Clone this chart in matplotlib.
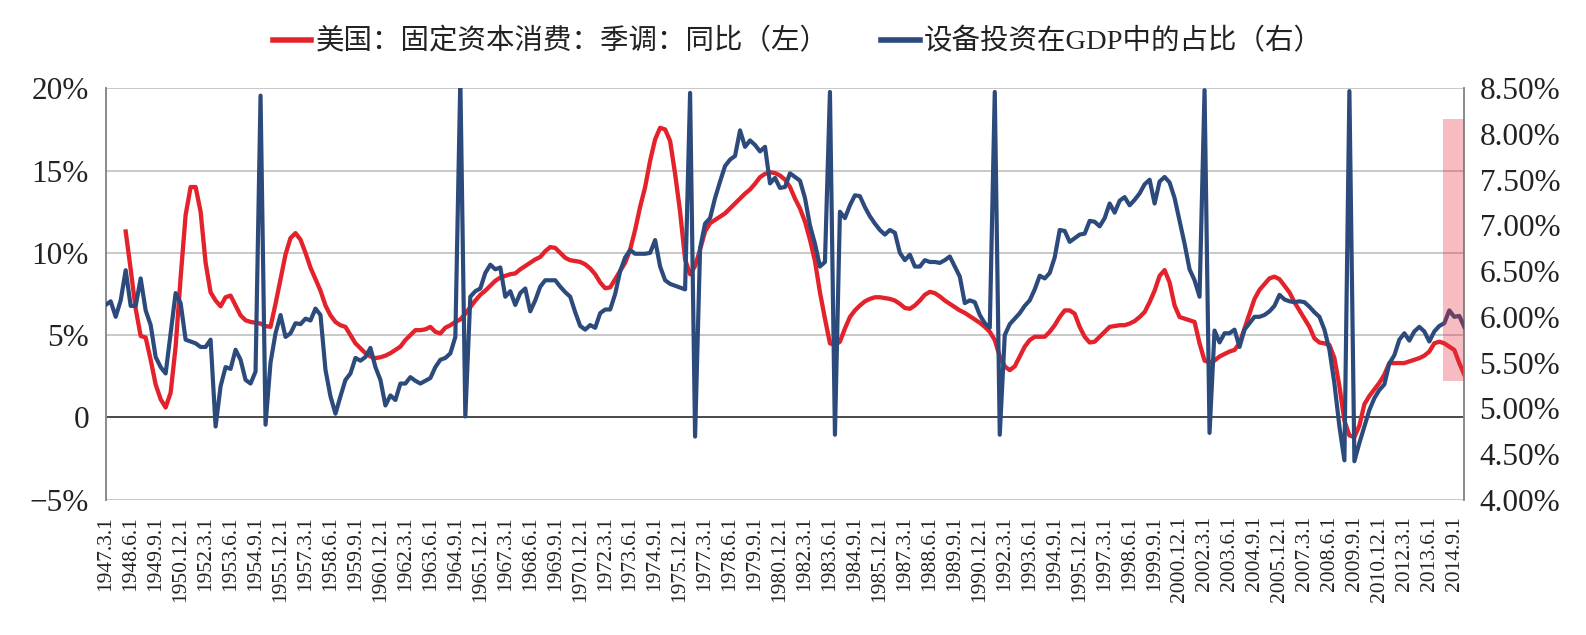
import numpy as np
import matplotlib
matplotlib.use("Agg")
import matplotlib.pyplot as plt
from matplotlib.patches import Rectangle

# ---------------- data (quarterly, 1947Q1 .. 2015Q1) ----------------
nan = np.nan
# 美国：固定资本消费：季调：同比 (%), left axis
capital_consumption_yoy = [
    nan, nan, nan, nan, 11.3, 9.0, 6.6, 4.95, 4.85, 3.5,          # 0-9
    2.0, 1.1, 0.6, 1.5, 4.3, 8.5, 12.3, 14.0, 14.0, 12.5,         # 10-19
    9.4, 7.6, 7.1, 6.75, 7.3, 7.4, 6.8, 6.2, 5.9, 5.8,            # 20-29
    5.75, 5.7, 5.55, 5.5, 6.9, 8.4, 9.9, 10.9, 11.2, 10.8,        # 30-39
    10.0, 9.1, 8.4, 7.7, 6.8, 6.2, 5.8, 5.6, 5.5, 5.0,            # 40-49
    4.5, 4.2, 3.9, 3.7, 3.6, 3.65, 3.75, 3.9, 4.1, 4.3,           # 50-59
    4.7, 5.0, 5.3, 5.3, 5.35, 5.5, 5.2, 5.1, 5.45, 5.6,           # 60-69
    5.8, 5.95, 6.3, 6.7, 7.1, 7.45, 7.7, 8.0, 8.3, 8.5,           # 70-79
    8.6, 8.7, 8.75, 9.0, 9.2, 9.4, 9.6, 9.75, 10.1, 10.35,        # 80-89
    10.3, 10.0, 9.7, 9.55, 9.5, 9.45, 9.3, 9.05, 8.7, 8.2,        # 90-99
    7.85, 7.9, 8.4, 8.9, 9.4, 10.2, 11.4, 12.8, 14.0, 15.6,       # 100-109
    16.9, 17.6, 17.5, 16.8, 14.8, 12.5, 9.6, 8.7, 9.2, 10.2,      # 110-119
    11.3, 11.8, 12.0, 12.2, 12.4, 12.7, 13.0, 13.3, 13.6, 13.85,  # 120-129
    14.2, 14.6, 14.8, 14.9, 14.85, 14.7, 14.45, 14.0, 13.3, 12.7, # 130-139
    11.9, 10.8, 9.5, 7.6, 6.0, 4.5, 4.4, 4.6, 5.4, 6.1,           # 140-149
    6.5, 6.8, 7.05, 7.2, 7.3, 7.3, 7.25, 7.2, 7.1, 6.9,           # 150-159
    6.65, 6.6, 6.8, 7.1, 7.45, 7.63, 7.55, 7.35, 7.1, 6.9,        # 160-169
    6.7, 6.5, 6.35, 6.15, 5.95, 5.75, 5.5, 5.2, 4.7, 3.7,         # 170-179
    3.1, 2.87, 3.1, 3.7, 4.3, 4.7, 4.9, 4.9, 4.9, 5.2,            # 180-189
    5.6, 6.1, 6.5, 6.5, 6.3, 5.5, 4.9, 4.55, 4.6, 4.9,            # 190-199
    5.2, 5.5, 5.55, 5.6, 5.6, 5.7, 5.85, 6.1, 6.4, 7.0,           # 200-209
    7.7, 8.6, 8.95, 8.2, 6.8, 6.1, 6.0, 5.9, 5.8, 4.5,            # 210-219
    3.45, 3.35, 3.45, 3.7, 3.85, 4.0, 4.1, 4.5, 5.4, 6.3,         # 220-229
    7.2, 7.75, 8.1, 8.45, 8.55, 8.4, 8.0, 7.6, 7.0, 6.5,          # 230-239
    6.0, 5.5, 4.8, 4.55, 4.5, 4.4, 3.6, 1.9, -0.2, -1.1,          # 240-249
    -1.2, -0.5, 0.8, 1.3, 1.7, 2.1, 2.6, 3.3, 3.3, 3.3,           # 250-259
    3.3, 3.4, 3.5, 3.6, 3.75, 4.0, 4.5, 4.6, 4.5, 4.3,            # 260-269
    4.1, 3.3, 2.6,                                                # 270-272
]

# 设备投资在GDP中的占比 (%), right axis
equipment_share_gdp = [
    6.13, 6.17, 6.00, 6.18, 6.51, 6.12, 6.12, 6.42, 6.07, 5.91,   # 0-9
    5.56, 5.45, 5.38, 5.82, 6.26, 6.15, 5.75, 5.73, 5.71, 5.67,   # 10-19
    5.67, 5.75, 4.80, 5.24, 5.45, 5.43, 5.64, 5.53, 5.31, 5.27,   # 20-29
    5.40, 8.42, 4.82, 5.50, 5.82, 6.02, 5.78, 5.82, 5.93, 5.92,   # 30-39
    5.98, 5.96, 6.09, 6.02, 5.42, 5.13, 4.94, 5.13, 5.31, 5.38,   # 40-49
    5.55, 5.52, 5.56, 5.66, 5.45, 5.31, 5.03, 5.14, 5.09, 5.27,   # 50-59
    5.27, 5.34, 5.30, 5.27, 5.30, 5.33, 5.45, 5.53, 5.55, 5.60,   # 60-69
    5.78, 8.60, 4.91, 6.22, 6.28, 6.31, 6.48, 6.57, 6.52, 6.54,   # 70-79
    6.22, 6.28, 6.13, 6.26, 6.31, 6.06, 6.18, 6.33, 6.40, 6.40,   # 80-89
    6.40, 6.33, 6.27, 6.22, 6.05, 5.90, 5.86, 5.91, 5.88, 6.04,   # 90-99
    6.08, 6.08, 6.25, 6.50, 6.65, 6.73, 6.69, 6.69, 6.69, 6.70,   # 100-109
    6.84, 6.55, 6.40, 6.36, 6.34, 6.32, 6.30, 8.45, 4.69, 6.75,   # 110-119
    7.02, 7.08, 7.30, 7.48, 7.65, 7.72, 7.76, 8.04, 7.86, 7.93,   # 120-129
    7.88, 7.81, 7.86, 7.46, 7.52, 7.41, 7.42, 7.57, 7.53, 7.49,   # 130-139
    7.30, 7.00, 6.80, 6.55, 6.60, 8.46, 4.71, 7.15, 7.08, 7.22,   # 140-149
    7.33, 7.32, 7.20, 7.10, 7.02, 6.95, 6.90, 6.95, 6.92, 6.70,   # 150-159
    6.62, 6.68, 6.55, 6.55, 6.62, 6.60, 6.60, 6.59, 6.62, 6.66,   # 160-169
    6.55, 6.44, 6.15, 6.18, 6.16, 6.02, 5.93, 5.88, 8.46, 4.71,   # 170-179
    5.80, 5.92, 5.98, 6.04, 6.12, 6.18, 6.30, 6.45, 6.42, 6.48,   # 180-189
    6.65, 6.95, 6.94, 6.82, 6.86, 6.90, 6.91, 7.05, 7.04, 6.99,   # 190-199
    7.08, 7.24, 7.14, 7.27, 7.31, 7.22, 7.28, 7.35, 7.45, 7.50,   # 200-209
    7.24, 7.48, 7.53, 7.47, 7.30, 7.05, 6.80, 6.52, 6.40, 6.22,   # 210-219
    8.48, 4.73, 5.85, 5.72, 5.82, 5.82, 5.86, 5.67, 5.86, 5.93,   # 220-229
    6.00, 6.00, 6.02, 6.06, 6.12, 6.24, 6.19, 6.17, 6.16, 6.17,   # 230-239
    6.16, 6.11, 6.05, 6.00, 5.86, 5.64, 5.27, 4.80, 4.43, 8.47,   # 240-249
    4.42, 4.62, 4.80, 4.98, 5.11, 5.20, 5.26, 5.49, 5.58, 5.75,   # 250-259
    5.82, 5.74, 5.84, 5.89, 5.84, 5.73, 5.84, 5.90, 5.93, 6.07,   # 260-269
    6.00, 6.01, 5.89,                                             # 270-272
]

x_tick_labels = [
    "1947.3.1", "1948.6.1", "1949.9.1", "1950.12.1", "1952.3.1", "1953.6.1",
    "1954.9.1", "1955.12.1", "1957.3.1", "1958.6.1", "1959.9.1", "1960.12.1",
    "1962.3.1", "1963.6.1", "1964.9.1", "1965.12.1", "1967.3.1", "1968.6.1",
    "1969.9.1", "1970.12.1", "1972.3.1", "1973.6.1", "1974.9.1", "1975.12.1",
    "1977.3.1", "1978.6.1", "1979.9.1", "1980.12.1", "1982.3.1", "1983.6.1",
    "1984.9.1", "1985.12.1", "1987.3.1", "1988.6.1", "1989.9.1", "1990.12.1",
    "1992.3.1", "1993.6.1", "1994.9.1", "1995.12.1", "1997.3.1", "1998.6.1",
    "1999.9.1", "2000.12.1", "2002.3.1", "2003.6.1", "2004.9.1", "2005.12.1",
    "2007.3.1", "2008.6.1", "2009.9.1", "2010.12.1", "2012.3.1", "2013.6.1",
    "2014.9.1",
]
label_every = 5  # one label every 5 quarters

left_ticks = [20, 15, 10, 5, 0, -5]
left_tick_labels = ["20%", "15%", "10%", "5%", "0", "\u22125%"]
right_ticks = [8.5, 8.0, 7.5, 7.0, 6.5, 6.0, 5.5, 5.0, 4.5, 4.0]
right_tick_labels = ["8.50%", "8.00%", "7.50%", "7.00%", "6.50%", "6.00%",
                     "5.50%", "5.00%", "4.50%", "4.00%"]

series_names = ["美国：固定资本消费：季调：同比（左）", "设备投资在GDP中的占比（右）"]

# highlighted window (last quarters), in right-axis units
highlight_from_quarter = 267.8
highlight_low, highlight_high = 5.30, 8.16

# ---------------- drawing ----------------
RED = "#e3222b"
BLUE = "#2c4a7c"
SERIF = ["Liberation Serif", "DejaVu Serif"]
LEGEND_FONT = ["Liberation Serif", "Noto Sans CJK SC"]

n = len(equipment_share_gdp)
xq = np.arange(n)

fig = plt.figure(figsize=(15.86, 6.35), dpi=100)
ax = fig.add_axes([0.06665, 0.2132, 0.8566, 0.6477])
ax2 = ax.twinx()

ax.set_xlim(0, n - 1)
ax.set_ylim(-5, 20)
ax2.set_ylim(4.0, 8.5)

# grid
for v in left_ticks:
    if v == 0:
        ax.axhline(v, color="#3a3a3a", lw=1.3, zorder=1)
    else:
        ax.axhline(v, color="#c4c4c4", lw=1.3, zorder=0.5)

l1, = ax.plot(xq, capital_consumption_yoy, color=RED, lw=3.1,
              solid_joinstyle="round", zorder=3)
l2, = ax2.plot(xq, equipment_share_gdp, color=BLUE, lw=3.0,
               solid_joinstyle="round", zorder=3)

ax2.add_patch(Rectangle((highlight_from_quarter, highlight_low),
                        (n - 1) - highlight_from_quarter,
                        highlight_high - highlight_low,
                        facecolor="#e8303f", alpha=0.32, lw=0, zorder=5))

# ticks
ax.set_yticks(left_ticks)
ax.set_yticklabels(left_tick_labels, fontfamily=SERIF, fontsize=22.5, color="#222222")
ax2.set_yticks(right_ticks)
ax2.set_yticklabels(right_tick_labels, fontfamily=SERIF, fontsize=22.5, color="#222222")
ax.set_xticks(xq[::label_every])
ax.set_xticklabels(x_tick_labels, rotation=90, fontfamily=SERIF, fontsize=15.5,
                   color="#222222", va="top", ha="center")
ax.tick_params(axis="y", length=0, pad=12)
ax2.tick_params(axis="y", length=0, pad=11)
ax.tick_params(axis="x", length=0, pad=12)

for a in (ax, ax2):
    for s in ("top", "bottom"):
        a.spines[s].set_visible(False)
    a.spines["left"].set_color("#8a8a8a")
    a.spines["right"].set_color("#8a8a8a")
    a.spines["left"].set_linewidth(1.2)
    a.spines["right"].set_linewidth(1.2)
ax.patch.set_visible(False)

leg = fig.legend([l1, l2], series_names, loc="center", ncol=2,
                 bbox_to_anchor=(0.503, 0.934), frameon=False,
                 prop={"family": LEGEND_FONT, "size": 20.5},
                 handlelength=1.35, handletextpad=0.15, columnspacing=1.85)
for h in leg.get_lines():
    h.set_linewidth(4)
for t in leg.get_texts():
    t.set_color("#222222")

fig.savefig("out.png", dpi=100)
